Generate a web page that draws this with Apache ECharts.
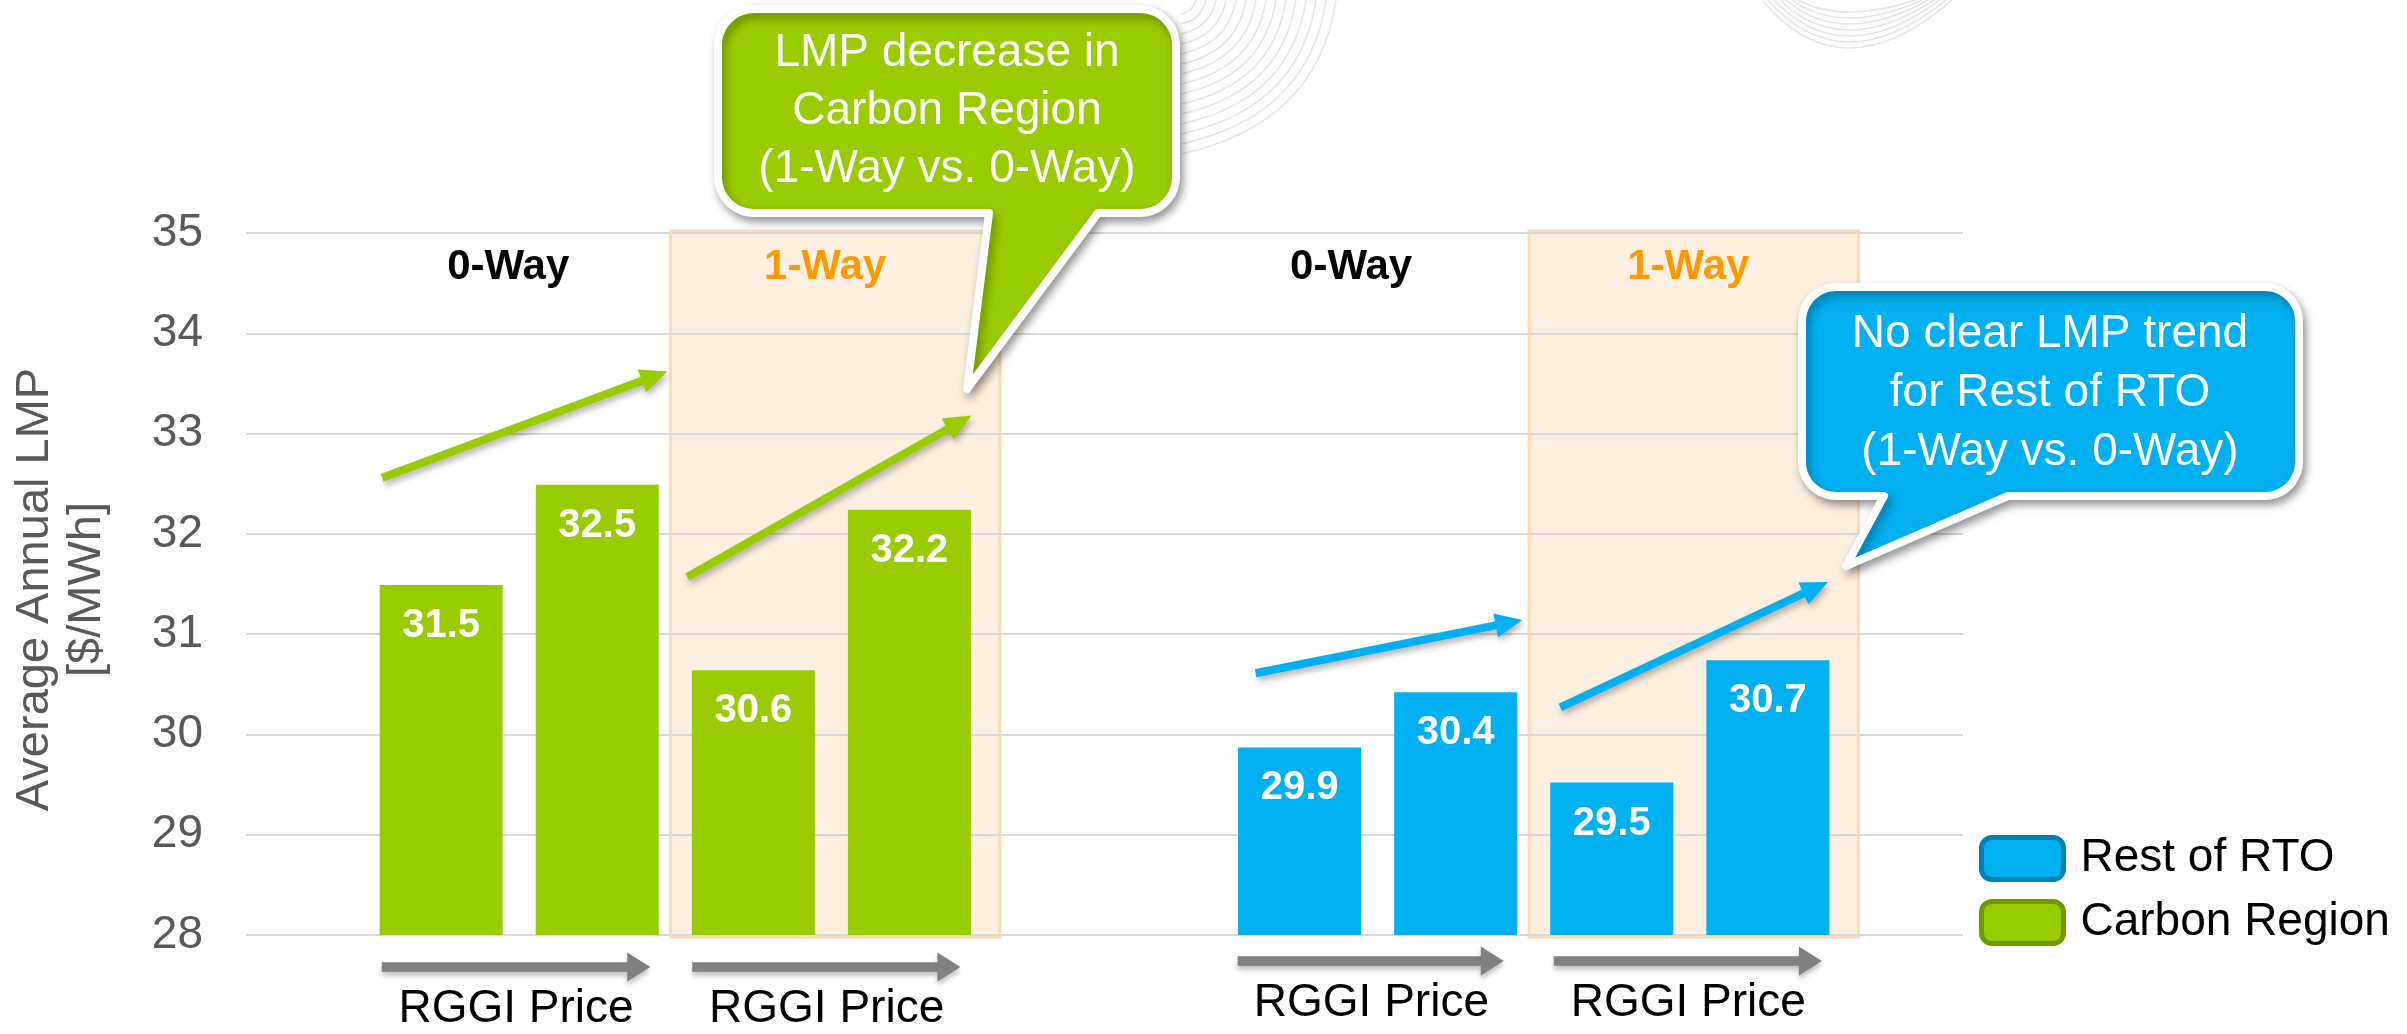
<!DOCTYPE html>
<html><head><meta charset="utf-8">
<script src="https://cdn.jsdelivr.net/npm/echarts@6/dist/echarts.min.js"></script>
<style>html,body{margin:0;padding:0;background:#fff}#c{width:2407px;height:1034px}</style>
</head><body><div id="c"></div><script>
const FONT = 'Arial, "Liberation Sans", Helvetica, sans-serif';

// ---- data ----
const categories = ['pad-left', 'Carbon 0-Way low RGGI', 'Carbon 0-Way high RGGI', 'Carbon 1-Way low RGGI', 'Carbon 1-Way high RGGI',
  'gap', 'RTO 0-Way low RGGI', 'RTO 0-Way high RGGI', 'RTO 1-Way low RGGI', 'RTO 1-Way high RGGI', 'pad-right'];
const carbonValues = [null, 31.49, 32.49, 30.64, 32.24, null, null, null, null, null, null];
const rtoValues = [null, null, null, null, null, null, 29.87, 30.42, 29.52, 30.74, null];
const yMin = 28, yMax = 35, yStep = 1;
const legendOrder = ['Rest of RTO', 'Carbon Region'];
const scenarioLabels = ['0-Way', '1-Way', '0-Way', '1-Way'];
const driverLabel = 'RGGI Price';
const yTitle = 'Average Annual LMP\n[$/MWh]';
const carbonCallout = 'LMP decrease in\nCarbon Region\n(1-Way vs. 0-Way)';
const rtoCallout = 'No clear LMP trend\nfor Rest of RTO\n(1-Way vs. 0-Way)';

const GREEN = '#99CC00', BLUE = '#00B0F0', ORANGE = '#FF9900';

const chart = echarts.init(document.getElementById('c'), null, {renderer: 'canvas'});
const labelOpt = {
  show: true, position: 'insideTop', distance: 21, color: '#fff', fontSize: 40, fontWeight: 'bold', fontFamily: FONT,
  formatter: p => (p.value == null ? '' : Number(p.value).toFixed(1))
};
chart.setOption({
  animation: false,
  backgroundColor: '#fff',
  grid: {left: 246, right: 444, top: 233, bottom: 99},
  xAxis: {type: 'category', data: categories, axisLine: {show: false}, axisTick: {show: false},
    axisLabel: {show: false}, splitLine: {show: false}},
  yAxis: {type: 'value', min: yMin, max: yMax, interval: yStep,
    axisLabel: {fontSize: 46, color: '#595959', fontFamily: FONT, margin: 43},
    splitLine: {lineStyle: {color: '#D9D9D9', width: 2}},
    axisLine: {show: false}, axisTick: {show: false},
    name: yTitle, nameLocation: 'middle', nameRotate: 90, nameGap: 133,
    nameTextStyle: {fontSize: 47, color: '#595959', fontFamily: FONT, lineHeight: 52, padding: [0, 11, 0, 0]}},
  legend: {
    orient: 'vertical', left: 1974, top: 830, itemWidth: 82, itemHeight: 42, itemGap: 17, icon: 'roundRect',
    selectedMode: false,
    data: [
      {name: legendOrder[0], itemStyle: {color: BLUE, borderColor: '#0080B3', borderWidth: 5}},
      {name: legendOrder[1], itemStyle: {color: GREEN, borderColor: '#6E9A00', borderWidth: 5}}
    ],
    textStyle: {fontSize: 46, color: '#000', fontFamily: FONT, lineHeight: 42, padding: [0, 0, 0, 12]}
  },
  series: [
    {name: 'Carbon Region', type: 'bar', data: carbonValues, barWidth: 123, barGap: '-36.6%',
      itemStyle: {color: GREEN}, label: labelOpt, z: 3},
    {name: 'Rest of RTO', type: 'bar', data: rtoValues, barWidth: 123, barGap: '-36.6%',
      itemStyle: {color: BLUE}, label: labelOpt, z: 3}
  ]
});

// ---- annotations positioned through the axes ----
const cx0 = chart.convertToPixel({xAxisIndex: 0}, 0);
const cx1 = chart.convertToPixel({xAxisIndex: 0}, 1);
function P(i, v) { return [cx0 + (cx1 - cx0) * i, chart.convertToPixel({yAxisIndex: 0}, v)]; }

function arrowPoly(p0, p1, w, L, H) {
  const dx = p1[0] - p0[0], dy = p1[1] - p0[1], len = Math.hypot(dx, dy);
  const ux = dx / len, uy = dy / len, nx = -uy, ny = ux;
  const bx = p1[0] - ux * L, by = p1[1] - uy * L;
  return [
    [p0[0] + nx * w / 2, p0[1] + ny * w / 2], [bx + nx * w / 2, by + ny * w / 2], [bx + nx * H, by + ny * H],
    [p1[0], p1[1]], [bx - nx * H, by - ny * H], [bx - nx * w / 2, by - ny * w / 2], [p0[0] - nx * w / 2, p0[1] - ny * w / 2]
  ];
}
function calloutPoly(x1, y1, x2, y2, r, tailL, tailR, tip) {
  const pts = [];
  const arc = (cx, cy, a0, a1) => { for (let k = 0; k <= 10; k++) { const a = (a0 + (a1 - a0) * k / 10) * Math.PI / 180; pts.push([cx + r * Math.cos(a), cy + r * Math.sin(a)]); } };
  arc(x2 - r, y1 + r, -90, 0);
  arc(x2 - r, y2 - r, 0, 90);
  pts.push([tailR, y2], tip, [tailL, y2]);
  arc(x1 + r, y2 - r, 90, 180);
  arc(x1 + r, y1 + r, 180, 270);
  return pts;
}

const g = [];
// background decoration (faint template swooshes)
for (let k = 0; k < 15; k++) {
  g.push({type: 'bezierCurve', z: -2, silent: true,
    shape: {x1: 1181, y1: 14 + 10 * k, x2: 1196 + 10 * k, y2: 0, cpx1: 1192 + 9 * k, cpy1: 12 + 8 * k},
    style: {stroke: '#E4E4E4', lineWidth: 1.5, fill: null}});
}
for (let k = 0; k < 7; k++) {
  const b = 48 - 6 * k;
  g.push({type: 'bezierCurve', z: -2, silent: true,
    shape: {x1: 1762 + 6 * k, y1: 0, x2: 1952 - 6 * k, y2: 0, cpx1: 1842, cpy1: 2 * b},
    style: {stroke: '#E4E4E4', lineWidth: 1.5, fill: null}});
}

// 1-Way shaded boxes
[[2.22, 4.33], [7.72, 9.83]].forEach(([a, b]) => {
  const p = P(a, 35.02), q = P(b, 27.98);
  g.push({type: 'rect', z: -1, silent: true, shape: {x: p[0], y: p[1], width: q[0] - p[0], height: q[1] - p[1]},
    style: {fill: '#FDF0E1', stroke: '#FBDDB3', lineWidth: 3}});
});

// scenario labels
const scenPos = [1.18, 3.21, 6.58, 8.74];
scenarioLabels.forEach((t, k) => {
  const p = P(scenPos[k], 34.66);
  g.push({type: 'text', z: 5, x: p[0], y: p[1], style: {text: t, fill: t === '1-Way' ? ORANGE : '#000',
    fontSize: 42, fontWeight: 'bold', fontFamily: FONT, align: 'center', verticalAlign: 'middle'}});
});

// trend arrows
const trendArrows = [
  [[0.372, 32.56], [2.199, 33.62], GREEN], [[2.327, 31.57], [4.147, 33.18], GREEN],
  [[5.968, 30.61], [7.676, 31.14], BLUE], [[7.92, 30.27], [9.635, 31.52], BLUE]
];
trendArrows.forEach(([a, b, c]) => {
  g.push({type: 'polygon', z: 6, silent: true, shape: {points: arrowPoly(P(a[0], a[1]), P(b[0], b[1]), 8, 27, 12)},
    style: {fill: c, shadowBlur: 6, shadowColor: 'rgba(0,0,0,0.3)', shadowOffsetX: 2, shadowOffsetY: 4}});
});

// RGGI price arrows + labels below the axis
const priceArrows = [[0.370, 2.090, 27.68, 1.23, 27.26], [2.359, 4.077, 27.68, 3.22, 27.26],
  [5.853, 7.558, 27.74, 6.71, 27.32], [7.878, 9.596, 27.74, 8.74, 27.32]];
priceArrows.forEach(([a, b, v, tp, tv]) => {
  g.push({type: 'polygon', z: 6, silent: true, shape: {points: arrowPoly(P(a, v), P(b, v), 9.5, 23, 14.5)},
    style: {fill: '#808080', shadowBlur: 5, shadowColor: 'rgba(0,0,0,0.25)', shadowOffsetX: 0, shadowOffsetY: 4}});
  const t = P(tp, tv);
  g.push({type: 'text', z: 6, x: t[0], y: t[1], style: {text: driverLabel, fill: '#000', fontSize: 46,
    fontFamily: FONT, align: 'center', verticalAlign: 'middle'}});
});

// callouts
g.push({type: 'polygon', z: 20, silent: true, shape: {points: calloutPoly(718, 9, 1176, 213, 36, 989, 1098, [967, 389])},
  style: {fill: GREEN, stroke: '#fff', lineWidth: 8, lineJoin: 'round', shadowBlur: 10, shadowColor: 'rgba(0,0,0,0.35)', shadowOffsetX: 3, shadowOffsetY: 5}});
g.push({type: 'text', z: 21, x: 947, y: 111, style: {text: carbonCallout, fill: '#fff', fontSize: 46, fontFamily: FONT,
  lineHeight: 58, align: 'center', verticalAlign: 'middle'}});
g.push({type: 'polygon', z: 20, silent: true, shape: {points: calloutPoly(1802, 287, 2299, 496, 34, 1884, 2008, [1846, 566])},
  style: {fill: BLUE, stroke: '#fff', lineWidth: 8, lineJoin: 'round', shadowBlur: 10, shadowColor: 'rgba(0,0,0,0.35)', shadowOffsetX: 3, shadowOffsetY: 5}});
g.push({type: 'text', z: 21, x: 2050, y: 393, style: {text: rtoCallout, fill: '#fff', fontSize: 46, fontFamily: FONT,
  lineHeight: 59, align: 'center', verticalAlign: 'middle'}});

chart.setOption({graphic: g});
</script></body></html>
